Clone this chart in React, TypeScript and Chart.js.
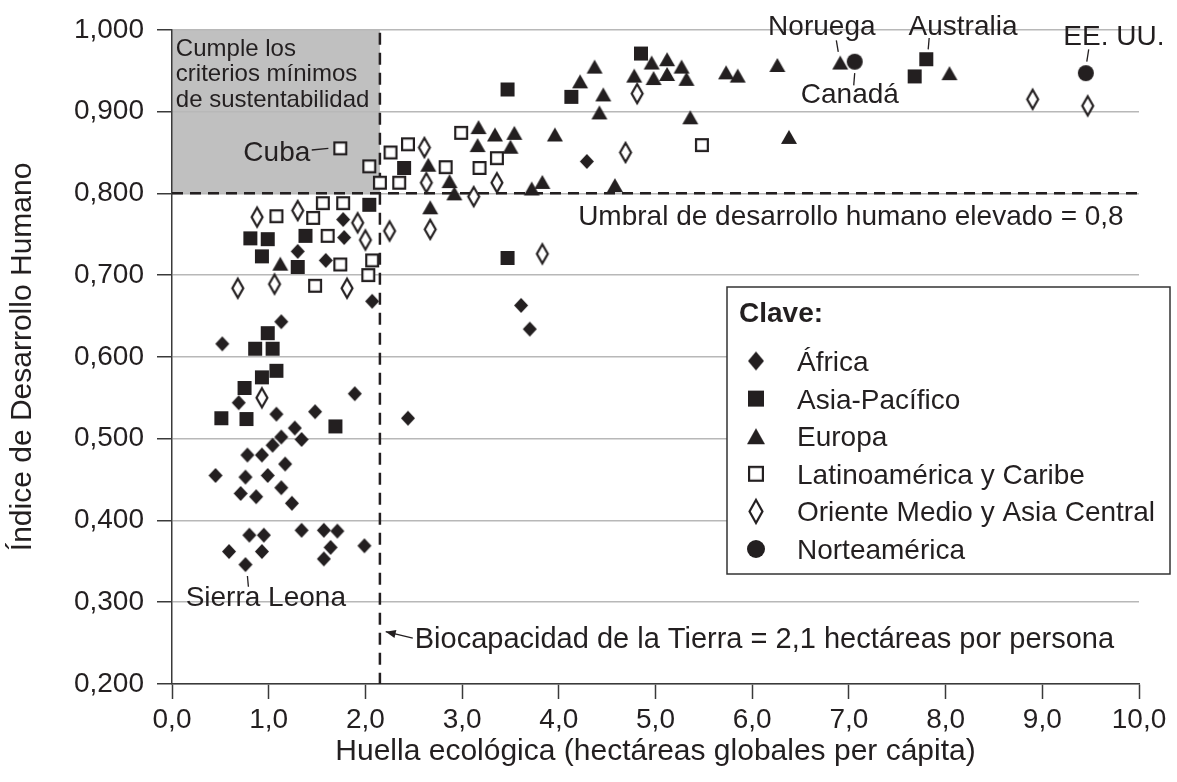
import React, { useEffect, useRef } from "react";
import { Chart, registerables } from "chart.js";

Chart.register(...registerables);

// ---------- Data (x = huella ecológica, y = IDH) ----------
const africa: number[][] = [
  [1.77, 0.768], [1.78, 0.746], [1.30, 0.729], [1.59, 0.718], [2.07, 0.668], [1.13, 0.643],
  [0.52, 0.616], [0.69, 0.544], [1.89, 0.555], [1.08, 0.530], [1.48, 0.533], [2.44, 0.525],
  [1.27, 0.513], [1.13, 0.502], [1.34, 0.499], [1.04, 0.492], [0.78, 0.480], [0.93, 0.480],
  [1.17, 0.469], [0.45, 0.455], [0.76, 0.453], [0.99, 0.455], [0.71, 0.433], [0.87, 0.429],
  [1.13, 0.440], [1.24, 0.421], [0.80, 0.382], [0.95, 0.382], [0.59, 0.362], [0.93, 0.362],
  [0.76, 0.346], [1.34, 0.388], [1.57, 0.388], [1.71, 0.387], [1.64, 0.367], [1.57, 0.353],
  [1.99, 0.369], [3.61, 0.663], [3.70, 0.634], [4.29, 0.839],
];
const asiaPacifico: number[][] = [
  [2.04, 0.786], [0.81, 0.745], [0.99, 0.744], [1.38, 0.748], [0.93, 0.723], [1.30, 0.710],
  [0.99, 0.629], [0.86, 0.610], [1.04, 0.610], [1.08, 0.583], [0.93, 0.575], [0.75, 0.562],
  [0.51, 0.525], [0.77, 0.524], [1.69, 0.515], [2.40, 0.831], [3.47, 0.721], [3.47, 0.927],
  [4.13, 0.918], [4.85, 0.971], [7.80, 0.964], [7.68, 0.943],
];
const europa: number[][] = [
  [1.12, 0.714], [4.42, 0.899], [3.17, 0.881], [3.34, 0.872], [3.54, 0.874], [3.96, 0.872],
  [3.16, 0.859], [3.50, 0.857], [2.65, 0.835], [2.87, 0.815], [2.92, 0.800], [3.72, 0.806],
  [3.83, 0.814], [4.58, 0.810], [2.67, 0.783], [4.96, 0.960], [5.12, 0.964], [5.27, 0.955],
  [4.78, 0.944], [4.98, 0.941], [5.12, 0.946], [5.32, 0.940], [4.37, 0.955], [4.22, 0.937],
  [4.46, 0.921], [5.73, 0.948], [5.85, 0.944], [6.26, 0.957], [6.91, 0.960], [5.36, 0.893],
  [6.38, 0.869], [8.04, 0.947],
];
const latinoamerica: number[][] = [
  [1.08, 0.772], [1.56, 0.788], [1.77, 0.788], [1.46, 0.770], [1.61, 0.748], [1.74, 0.713],
  [2.07, 0.718], [2.03, 0.700], [1.48, 0.687], [1.74, 0.855], [2.04, 0.833], [2.26, 0.850],
  [2.44, 0.860], [2.15, 0.813], [2.35, 0.813], [2.83, 0.832], [2.99, 0.874], [3.18, 0.831],
  [3.36, 0.843], [5.48, 0.859],
];
const orienteMedio: number[][] = [
  [0.88, 0.771], [1.30, 0.779], [1.92, 0.764], [2.25, 0.754], [2.00, 0.743], [0.68, 0.684],
  [1.06, 0.689], [1.81, 0.684], [0.93, 0.550], [2.61, 0.856], [2.63, 0.813], [3.12, 0.796],
  [3.36, 0.813], [2.67, 0.756], [3.83, 0.726], [4.81, 0.922], [4.69, 0.850], [8.90, 0.915],
  [9.47, 0.907],
];
const norteamerica: number[][] = [[7.06, 0.961], [9.45, 0.947]];

const seriesNames = [
  "África", "Asia-Pacífico", "Europa", "Latinoamérica y Caribe",
  "Oriente Medio y Asia Central", "Norteamérica",
];

const xTickLabels = ["0,0", "1,0", "2,0", "3,0", "4,0", "5,0", "6,0", "7,0", "8,0", "9,0", "10,0"];
const yTickLabels = ["0,200", "0,300", "0,400", "0,500", "0,600", "0,700", "0,800", "0,900", "1,000"];

const biocapacidad = 2.15;
const umbralIDH = 0.8;

const INK = "#231f20";
const FONT = "'Liberation Sans', Arial, Helvetica, sans-serif";

type Kind = "diamond" | "square" | "triangle" | "hsquare" | "hdiamond" | "circle";

function makeMarker(kind: Kind, w: number, h: number, lw = 2): HTMLCanvasElement {
  const pad = 2;
  const c = document.createElement("canvas");
  c.width = Math.round(w + pad * 2);
  c.height = Math.round(h + pad * 2);
  const ctx = c.getContext("2d")!;
  const cx = c.width / 2;
  const cy = c.height / 2;
  ctx.fillStyle = INK;
  ctx.strokeStyle = INK;
  ctx.lineWidth = lw;
  ctx.lineJoin = "miter";
  ctx.beginPath();
  if (kind === "diamond") {
    ctx.moveTo(cx, cy - h / 2); ctx.lineTo(cx + w / 2, cy); ctx.lineTo(cx, cy + h / 2); ctx.lineTo(cx - w / 2, cy);
    ctx.closePath(); ctx.fill();
  } else if (kind === "square") {
    ctx.rect(cx - w / 2, cy - h / 2, w, h); ctx.fill();
  } else if (kind === "triangle") {
    ctx.moveTo(cx, cy - h / 2); ctx.lineTo(cx + w / 2, cy + h / 2); ctx.lineTo(cx - w / 2, cy + h / 2);
    ctx.closePath(); ctx.fill();
  } else if (kind === "circle") {
    ctx.arc(cx, cy, w / 2, 0, Math.PI * 2); ctx.fill();
  } else if (kind === "hsquare") {
    const i = lw / 2;
    ctx.rect(cx - w / 2 + i, cy - h / 2 + i, w - lw, h - lw);
    ctx.fillStyle = "#ffffff"; ctx.fill(); ctx.stroke();
  } else if (kind === "hdiamond") {
    const iw = w / 2 - lw * 0.7, ih = h / 2 - lw * 0.9;
    ctx.moveTo(cx, cy - ih); ctx.lineTo(cx + iw, cy); ctx.lineTo(cx, cy + ih); ctx.lineTo(cx - iw, cy);
    ctx.closePath(); ctx.fillStyle = "#ffffff"; ctx.fill(); ctx.stroke();
  }
  return c;
}

export default function App() {
  const ref = useRef<HTMLCanvasElement | null>(null);

  useEffect(() => {
    document.body.style.margin = "0";
    const canvas = ref.current;
    if (!canvas) return;

    const kinds: Kind[] = ["diamond", "square", "triangle", "hsquare", "hdiamond", "circle"];
    const plotSizes: number[][] = [[14, 15, 2], [14, 14, 2], [16, 14, 2], [14, 14, 2.2], [14, 23, 2.2], [16, 16, 2]];
    const legendSizes: number[][] = [[16, 19, 2], [16, 16, 2], [18, 16, 2], [16, 16, 2.2], [16, 27, 2.2], [18, 18, 2]];
    const plotMarkers = kinds.map((k, i) => makeMarker(k, plotSizes[i][0], plotSizes[i][1], plotSizes[i][2]));
    const legendMarkers = kinds.map((k, i) => makeMarker(k, legendSizes[i][0], legendSizes[i][1], legendSizes[i][2]));

    const allSeries = [africa, asiaPacifico, europa, latinoamerica, orienteMedio, norteamerica];

    const text = (ctx: CanvasRenderingContext2D, s: string, x: number, y: number, size: number,
      align: CanvasTextAlign = "left", bold = false) => {
      ctx.font = `${bold ? "bold " : ""}${size}px ${FONT}`;
      ctx.fillStyle = INK;
      ctx.textAlign = align;
      ctx.textBaseline = "alphabetic";
      ctx.fillText(s, x, y);
    };
    const line = (ctx: CanvasRenderingContext2D, x1: number, y1: number, x2: number, y2: number, w = 1.3) => {
      ctx.beginPath(); ctx.strokeStyle = INK; ctx.lineWidth = w; ctx.setLineDash([]);
      ctx.moveTo(x1, y1); ctx.lineTo(x2, y2); ctx.stroke();
    };

    const annot = {
      id: "annot",
      beforeDraw(chart: any) {
        const { ctx, scales } = chart;
        const xs = scales.x, ys = scales.y;
        ctx.save();
        ctx.fillStyle = "#c0c0c0";
        const x0 = xs.getPixelForValue(0), x1 = xs.getPixelForValue(biocapacidad);
        const y0 = ys.getPixelForValue(1.0), y1 = ys.getPixelForValue(umbralIDH);
        ctx.fillRect(x0, y0, x1 - x0, y1 - y0);
        ctx.restore();
      },
      beforeDatasetsDraw(chart: any) {
        const { ctx, scales, chartArea } = chart;
        const xs = scales.x, ys = scales.y;
        ctx.save();
        ctx.strokeStyle = INK;
        ctx.lineWidth = 2.5;
        ctx.setLineDash([11, 7]);
        const yU = ys.getPixelForValue(umbralIDH);
        ctx.beginPath(); ctx.moveTo(chartArea.left, yU); ctx.lineTo(chartArea.right, yU); ctx.stroke();
        ctx.setLineDash([12, 8]);
        const xB = xs.getPixelForValue(biocapacidad);
        ctx.beginPath(); ctx.moveTo(xB, chartArea.top + 3); ctx.lineTo(xB, chartArea.bottom); ctx.stroke();
        ctx.restore();
      },
      afterDatasetsDraw(chart: any) {
        const { ctx, scales } = chart;
        const X = (v: number) => scales.x.getPixelForValue(v);
        const Y = (v: number) => scales.y.getPixelForValue(v);
        ctx.save();
        // grey box text
        text(ctx, "Cumple los", X(0.04), Y(0.968), 24);
        text(ctx, "criterios mínimos", X(0.04), Y(0.937), 24);
        text(ctx, "de sustentabilidad", X(0.04), Y(0.905), 24);
        // country labels
        text(ctx, "Cuba", X(1.43), Y(0.840), 28, "right");
        line(ctx, X(1.445), Y(0.853), X(1.617), Y(0.855));
        text(ctx, "Sierra Leona", X(0.97), Y(0.295), 28, "center");
        line(ctx, X(0.78), Y(0.332), X(0.79), Y(0.319));
        text(ctx, "Noruega", X(6.72), Y(0.994), 28, "center");
        line(ctx, X(6.87), Y(0.987), X(6.89), Y(0.973));
        text(ctx, "Australia", X(8.18), Y(0.994), 28, "center");
        line(ctx, X(7.83), Y(0.990), X(7.82), Y(0.976));
        text(ctx, "EE. UU.", X(9.74), Y(0.982), 28, "center");
        line(ctx, X(9.48), Y(0.976), X(9.46), Y(0.961));
        text(ctx, "Canadá", X(7.01), Y(0.911), 28, "center");
        line(ctx, X(7.06), Y(0.947), X(7.05), Y(0.932));
        // thresholds
        text(ctx, "Umbral de desarrollo humano elevado = 0,8", X(4.20), Y(0.761), 28);
        text(ctx, "Biocapacidad de la Tierra = 2,1 hectáreas por persona", X(2.51), Y(0.244), 29);
        const tx = X(2.49), ty = Y(0.256), hx = X(2.21), hy = Y(0.264);
        line(ctx, tx, ty, hx, hy, 1.3);
        const ang = Math.atan2(hy - ty, hx - tx);
        ctx.beginPath();
        ctx.fillStyle = INK;
        ctx.moveTo(hx, hy);
        ctx.lineTo(hx - 10 * Math.cos(ang) + 4 * Math.sin(ang), hy - 10 * Math.sin(ang) - 4 * Math.cos(ang));
        ctx.lineTo(hx - 10 * Math.cos(ang) - 4 * Math.sin(ang), hy - 10 * Math.sin(ang) + 4 * Math.cos(ang));
        ctx.closePath(); ctx.fill();

        // legend ("Clave")
        const lx = 727, ly = 287, lw = 443, lh = 287;
        ctx.fillStyle = "#ffffff";
        ctx.fillRect(lx, ly, lw, lh);
        ctx.strokeStyle = "#333333";
        ctx.lineWidth = 1.5;
        ctx.setLineDash([]);
        ctx.strokeRect(lx, ly, lw, lh);
        text(ctx, "Clave:", lx + 12, ly + 35, 28, "left", true);
        for (let i = 0; i < seriesNames.length; i++) {
          const base = ly + 84 + i * 37.6;
          const m = legendMarkers[i];
          ctx.drawImage(m, lx + 29 - m.width / 2, base - 10 - m.height / 2);
          text(ctx, seriesNames[i], lx + 70, base, 28);
        }
        ctx.restore();
      },
    };

    const chart = new Chart(canvas, {
      type: "scatter",
      data: {
        datasets: allSeries.map((s, i) => ({
          label: seriesNames[i],
          data: s.map(([x, y]) => ({ x, y })),
          pointStyle: plotMarkers[i] as any,
          pointRadius: 7,
          pointHoverRadius: 7,
          showLine: false,
        })),
      },
      options: {
        animation: false,
        responsive: true,
        maintainAspectRatio: false,
        layout: { padding: { top: 25, right: 38, left: 0, bottom: 0 } },
        plugins: { legend: { display: false }, tooltip: { enabled: false } },
        events: [],
        scales: {
          x: {
            type: "linear",
            min: 0,
            max: 10,
            ticks: {
              stepSize: 1,
              color: INK,
              font: { family: FONT, size: 28 },
              padding: 4,
              maxRotation: 0,
              callback: (_v: any, i: number) => xTickLabels[i],
            },
            grid: { drawOnChartArea: false, drawTicks: true, tickLength: 15, tickColor: "#3a3a3a", tickWidth: 1.5 },
            border: { color: "#3a3a3a", width: 1.5 },
            title: {
              display: true,
              text: "Huella ecológica (hectáreas globales per cápita)",
              color: INK,
              font: { family: FONT, size: 30 },
              padding: { top: 0, bottom: 12 },
            },
            afterFit: (scale: any) => { scale.height = 98; },
          },
          y: {
            type: "linear",
            min: 0.2,
            max: 1.0,
            ticks: {
              stepSize: 0.1,
              color: INK,
              font: { family: FONT, size: 28 },
              padding: 13,
              callback: (_v: any, i: number) => yTickLabels[i],
            },
            grid: { color: "#b8b8b8", lineWidth: 1.5, drawTicks: true, tickLength: 15, tickColor: "#3a3a3a", tickWidth: 1.5 },
            border: { color: "#3a3a3a", width: 1.5 },
            title: {
              display: true,
              text: "Índice de Desarrollo Humano",
              color: INK,
              font: { family: FONT, size: 30 },
              padding: { top: 5, bottom: 0 },
            },
            afterFit: (scale: any) => { scale.width = 172; },
          },
        },
      },
      plugins: [annot],
    } as any);

    return () => chart.destroy();
  }, []);

  return (
    <div style={{ width: 1177, height: 782, position: "relative" }}>
      <canvas ref={ref} />
    </div>
  );
}
